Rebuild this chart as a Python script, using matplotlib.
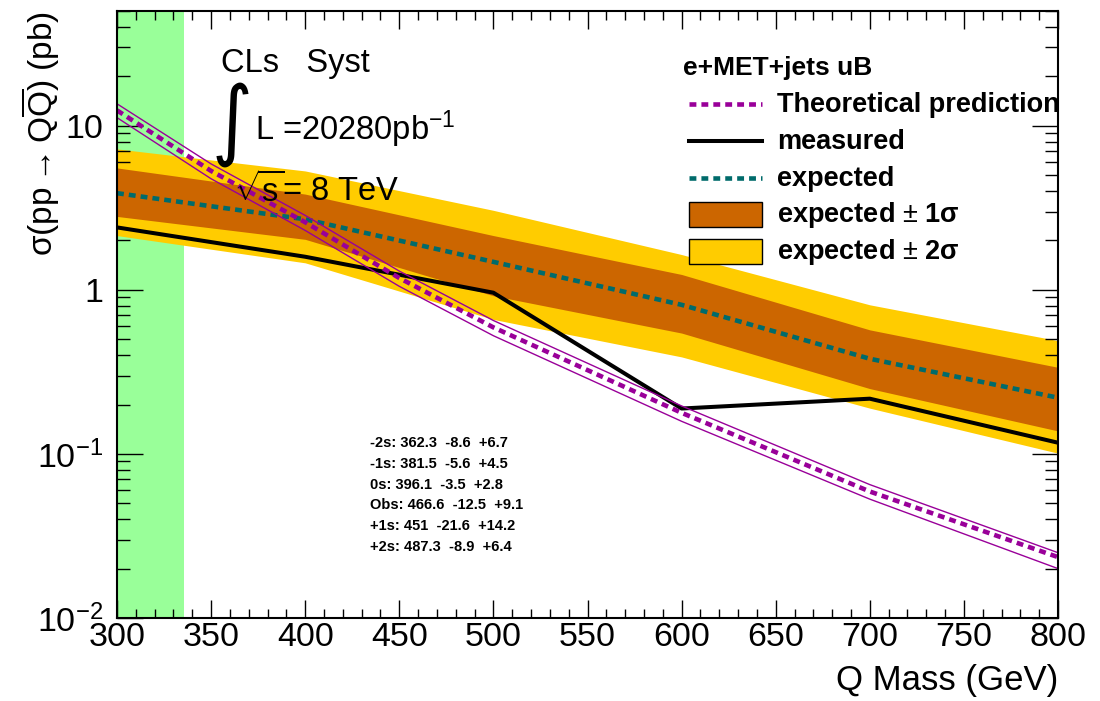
import matplotlib
matplotlib.use('Agg')
import matplotlib.pyplot as plt
from matplotlib.lines import Line2D
from matplotlib.patches import Rectangle
from matplotlib.ticker import FixedLocator, MultipleLocator, NullFormatter

# ---------------- data ----------------
mass = [300, 400, 500, 600, 700, 800]
observed = [2.40, 1.59, 0.96, 0.189, 0.217, 0.117]
expected = [3.88, 2.69, 1.48, 0.81, 0.38, 0.22]
exp_m1 = [2.80, 2.03, 0.92, 0.545, 0.25, 0.138]
exp_p1 = [5.53, 3.83, 2.14, 1.24, 0.57, 0.337]
exp_m2 = [2.14, 1.46, 0.66, 0.39, 0.19, 0.101]
exp_p2 = [7.22, 5.30, 3.05, 1.64, 0.81, 0.49]

theory_mass = [300, 350, 400, 450, 500, 600, 700, 800]
theory = [12.4, 5.3, 2.58, 1.18, 0.59, 0.178, 0.059, 0.0235]
theory_up = [13.6, 5.85, 2.84, 1.30, 0.65, 0.196, 0.065, 0.0250]
theory_down = [11.2, 4.75, 2.30, 1.05, 0.525, 0.158, 0.053, 0.0200]

excluded_range = [300, 335.4]

limit_lines = [
    "-2s: 362.3  -8.6  +6.7",
    "-1s: 381.5  -5.6  +4.5",
    "0s: 396.1  -3.5  +2.8",
    "Obs: 466.6  -12.5  +9.1",
    "+1s: 451  -21.6  +14.2",
    "+2s: 487.3  -8.9  +6.4",
]
legend_title = "e+MET+jets uB"
legend_labels = ["Theoretical prediction", "measured", "expected",
                 r"expected $\pm$ 1$\mathregular{\sigma}$",
                 r"expected $\pm$ 2$\mathregular{\sigma}$"]

# ---------------- style ----------------
plt.rcParams['font.family'] = ['Liberation Sans', 'DejaVu Sans']
plt.rcParams['mathtext.fontset'] = 'custom'
plt.rcParams['mathtext.rm'] = 'Liberation Sans'
plt.rcParams['mathtext.it'] = 'Liberation Sans:italic'
plt.rcParams['mathtext.bf'] = 'Liberation Sans:bold'
plt.rcParams['mathtext.sf'] = 'Liberation Sans'

W, H = 1100, 701
fig = plt.figure(figsize=(W / 100, H / 100), dpi=100)

def fx(x):
    return x / W

def fy(y):
    return 1 - y / H

ax = fig.add_axes([fx(117), fy(618), fx(1058) - fx(117), fy(11) - fy(618)])

C_PURPLE = '#990099'
C_TEAL = '#006b6b'
C_ORANGE = '#cc6600'
C_YELLOW = '#ffcc00'
C_GREEN = '#99ff99'

ax.axvspan(excluded_range[0], excluded_range[1], color=C_GREEN, lw=0, zorder=0)
ax.fill_between(mass, exp_m2, exp_p2, color=C_YELLOW, lw=0, zorder=1)
ax.fill_between(mass, exp_m1, exp_p1, color=C_ORANGE, lw=0, zorder=2)
ax.plot(mass, expected, color=C_TEAL, lw=3.3, dashes=(1.5, 1.1), zorder=3)
ax.plot(mass, observed, color='black', lw=2.9, zorder=4)
ax.plot(theory_mass, theory_up, color=C_PURPLE, lw=1.0, zorder=5)
ax.plot(theory_mass, theory_down, color=C_PURPLE, lw=1.0, zorder=5)
ax.plot(theory_mass, theory, color=C_PURPLE, lw=3.3, dashes=(1.5, 1.1), zorder=6)

ax.set_xlim(300, 800)
ax.set_yscale('log')
ax.set_ylim(0.01, 50)

ax.xaxis.set_major_locator(MultipleLocator(50))
ax.xaxis.set_minor_locator(MultipleLocator(10))
ax.yaxis.set_major_locator(FixedLocator([0.01, 0.1, 1, 10]))
ax.yaxis.set_minor_locator(FixedLocator([m * 10.0 ** e for e in (-2, -1, 0, 1) for m in range(2, 10)]))
ax.yaxis.set_minor_formatter(NullFormatter())
ax.set_yticklabels([r'$\mathregular{10^{-2}}$', r'$\mathregular{10^{-1}}$', '1', '10'])

for s in ax.spines.values():
    s.set_linewidth(1.5)
    s.set_zorder(10)
ax.tick_params(axis='both', which='both', direction='in', top=True, right=True,
               width=1.0, labelsize=24.5, zorder=10)
ax.tick_params(axis='x', which='major', length=13, pad=3)
ax.tick_params(axis='x', which='minor', length=6.5)
ax.tick_params(axis='y', which='major', length=19, pad=10)
ax.tick_params(axis='y', which='minor', length=9.5)

ax.set_xlabel('Q Mass (GeV)', fontsize=25, loc='right', labelpad=8)
ax.set_ylabel(r'$\mathregular{\sigma(pp \rightarrow Q\overline{Q})}$ (pb)', fontsize=24,
              loc='top')
ax.yaxis.set_label_coords((62 - 117) / 941, 1.0)

# ---------------- annotations ----------------
fig.text(fx(221), fy(72), 'CLs   Syst', fontsize=23.5, ha='left', va='baseline')
fig.text(fx(212), fy(149), '\u222b', fontsize=63, ha='left', va='baseline',
         family=['DejaVu Sans'], fontstretch='condensed')
fig.text(fx(255), fy(140), r'L =20280pb$^{\mathregular{-1}}$', fontsize=23.5, ha='left', va='baseline')
fig.text(fx(234), fy(202), r'$\mathregular{\sqrt{s}}$= 8 TeV', fontsize=23.5, ha='left', va='baseline')

for i, t in enumerate(limit_lines):
    fig.text(fx(370), fy(447 + i * 20.8), t, fontsize=10.5, fontweight='bold',
             ha='left', va='baseline')

# ---------------- legend ----------------
fig.text(fx(683), fy(75), legend_title, fontsize=19, fontweight='bold', ha='left', va='baseline')
row_y = [104, 141, 178, 214, 251]
x0, x1, xt = 689, 762, 777
fig.add_artist(Line2D([fx(x0), fx(x1)], [fy(row_y[0])] * 2, color=C_PURPLE, lw=3.3,
                      dashes=(1.5, 1.1), transform=fig.transFigure))
fig.add_artist(Line2D([fx(x0), fx(x1)], [fy(row_y[1])] * 2, color='black', lw=2.9,
                      transform=fig.transFigure))
fig.add_artist(Line2D([fx(x0), fx(x1)], [fy(row_y[2])] * 2, color=C_TEAL, lw=3.3,
                      dashes=(1.5, 1.1), transform=fig.transFigure))
for yy, col in ((row_y[3], C_ORANGE), (row_y[4], C_YELLOW)):
    fig.add_artist(Rectangle((fx(x0), fy(yy + 12.5)), fx(x1) - fx(x0), fy(yy - 12.5) - fy(yy + 12.5),
                             facecolor=col, edgecolor='black', lw=1.0, transform=fig.transFigure))
for yy, lab in zip(row_y, legend_labels):
    fig.text(fx(xt), fy(yy + 8), lab, fontsize=19.5, fontweight='bold', ha='left', va='baseline')

fig.savefig('out.png', dpi=100)
